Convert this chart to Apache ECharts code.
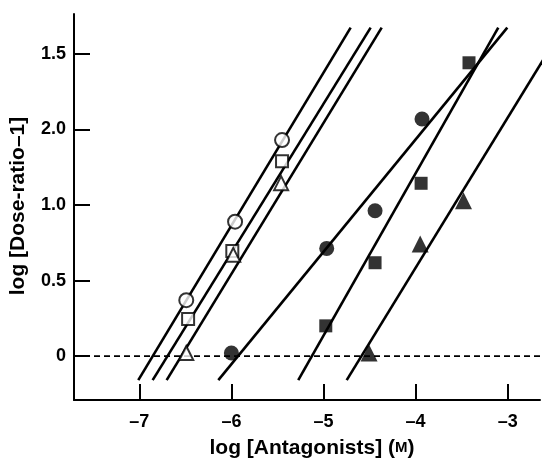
<!DOCTYPE html>
<html><head><meta charset="utf-8">
<script src="https://cdn.jsdelivr.net/npm/echarts@6/dist/echarts.min.js"></script>
<style>html,body{margin:0;padding:0;background:#fff}#c{width:559px;height:460px}</style>
</head><body><div id="c"></div>
<script>
// tick values and labels (as printed)
const xTicks = [-7, -6, -5, -4, -3];
const yTicks = [0, 0.5, 1, 1.5, 2];
const yTickLabels = ['0', '0.5', '1.0', '2.0', '1.5'];

// data points [log antagonist, log(DR-1)]
const openCircle   = [[-6.49, 0.37], [-5.96, 0.89], [-5.45, 1.43]];
const openSquare   = [[-6.47, 0.245], [-5.99, 0.695], [-5.45, 1.29]];
const openTriangle = [[-6.49, 0.02], [-5.98, 0.67], [-5.46, 1.145]];
const fillCircle   = [[-6.00, 0.02], [-4.965, 0.713], [-4.44, 0.962], [-3.93, 1.57]];
const fillSquare   = [[-4.975, 0.20], [-4.44, 0.618], [-3.94, 1.144], [-3.42, 1.942]];
const fillTriangle = [[-4.505, 0.02], [-3.95, 0.742], [-3.48, 1.028]];

// fitted lines (end points)
const lineOpenCircle   = [[-7.011, -0.159], [-4.705, 2.175]];
const lineOpenSquare   = [[-6.855, -0.159], [-4.488, 2.175]];
const lineOpenTriangle = [[-6.703, -0.159], [-4.368, 2.175]];
const lineFillCircle   = [[-6.142, -0.159], [-3.004, 2.175]];
const lineFillSquare   = [[-5.274, -0.159], [-3.102, 2.175]];
const lineFillTriangle = [[-4.748, -0.159], [-2.400, 2.175]];
const baseline = [[-7.709, 0], [-2.62, 0]];

const chart = echarts.init(document.getElementById('c'), null, {renderer: 'canvas'});
const font = 'Liberation Sans, Arial, Helvetica, sans-serif';

function fitLine(d) {
  return {type: 'line', data: d, symbol: 'none', clip: false, silent: true,
    lineStyle: {color: '#000', width: 2.6}, z: 2};
}
function pts(d, symbol, size, filled) {
  return {type: 'scatter', data: d, symbol: symbol, symbolSize: size, z: 5,
    itemStyle: {color: filled ? '#000' : '#fff', borderColor: '#000', borderWidth: filled ? 0 : 2}};
}

chart.setOption({
  animation: false,
  backgroundColor: '#fff',
  grid: {left: 74, right: 19, top: 14, bottom: 60},
  xAxis: {
    type: 'value', min: -7.709, max: -2.649,
    axisLine: {onZero: false, lineStyle: {color: '#000', width: 2}},
    axisTick: {show: true, inside: true, length: 16, lineStyle: {color: '#000', width: 2}, customValues: xTicks},
    axisLabel: {color: '#000', fontSize: 18, fontWeight: 'bold', fontFamily: font, margin: 13,
      customValues: xTicks, formatter: v => '\u2013' + Math.abs(v)},
    splitLine: {show: false}
  },
  yAxis: {
    type: 'value', min: -0.291, max: 2.265,
    axisLine: {show: true, onZero: false, lineStyle: {color: '#000', width: 2}},
    axisTick: {show: true, inside: true, length: 16, lineStyle: {color: '#000', width: 2}, customValues: yTicks},
    axisLabel: {color: '#000', fontSize: 18, fontWeight: 'bold', fontFamily: font, margin: 8,
      customValues: yTicks, formatter: v => yTickLabels[yTicks.indexOf(v)]},
    splitLine: {show: false}
  },
  graphic: [
    {type: 'text', x: 18, y: 206, rotation: Math.PI / 2,
      style: {text: 'log [Dose-ratio\u20131]', font: 'bold 21px ' + font, fill: '#000',
        align: 'center', verticalAlign: 'middle'}},
    {type: 'text', x: 312, y: 448,
      style: {text: 'log [Antagonists] ({s|M})', font: 'bold 21px ' + font, fill: '#000',
        align: 'center', verticalAlign: 'middle',
        rich: {s: {fontSize: 15, fontWeight: 'bold', fontFamily: font, fill: '#000'}}}}
  ],
  series: [
    {type: 'line', data: baseline, symbol: 'none', clip: false, silent: true, z: 1,
      lineStyle: {color: '#000', width: 1.8, type: [6, 4]}},
    fitLine(lineOpenCircle), fitLine(lineOpenSquare), fitLine(lineOpenTriangle),
    fitLine(lineFillCircle), fitLine(lineFillSquare), fitLine(lineFillTriangle),
    pts(openCircle, 'circle', 14, false),
    pts(openSquare, 'rect', 12, false),
    pts(openTriangle, 'triangle', 14, false),
    pts(fillCircle, 'circle', 15, true),
    pts(fillSquare, 'rect', 13, true),
    pts(fillTriangle, 'triangle', 17, true)
  ]
});
</script></body></html>
